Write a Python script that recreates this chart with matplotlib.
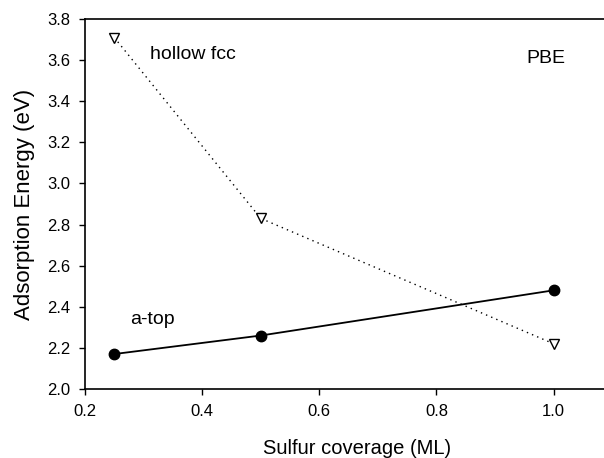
import numpy as np
import matplotlib
matplotlib.use("Agg")
import matplotlib.pyplot as plt

plt.rcParams['font.family'] = ['Liberation Sans', 'DejaVu Sans']

coverage = [0.25, 0.5, 1.0]
hollow_fcc = [3.71, 2.83, 2.22]
a_top = [2.17, 2.26, 2.48]

xticks = [0.2, 0.4, 0.6, 0.8, 1.0]
yticks = np.arange(2.0, 3.81, 0.2)

fig = plt.figure(figsize=(6.04, 4.58), dpi=100)
ax = fig.add_axes([0.1407, 0.1507, 0.8593, 0.8078])

ax.plot(coverage, hollow_fcc, color='black', linestyle=(0, (1, 3)), linewidth=1.0,
        marker='v', markersize=7, markerfacecolor='white', markeredgecolor='black',
        markeredgewidth=1.0)
ax.plot(coverage, a_top, color='black', linestyle='-', linewidth=1.3,
        marker='o', markersize=7.5, markerfacecolor='black', markeredgecolor='black')

ax.text(0.311, 3.625, 'hollow fcc', fontsize=14, va='center', ha='left')
ax.text(0.277, 2.336, 'a-top', fontsize=14, va='center', ha='left')
ax.text(0.954, 3.61, 'PBE', fontsize=14, va='center', ha='left')

ax.set_xlim(0.2, 1.086)
ax.set_ylim(2.0, 3.8)
ax.set_xticks(xticks)
ax.set_xticklabels(['%.1f' % v for v in xticks])
ax.set_yticks(yticks)
ax.set_yticklabels(['%.1f' % v for v in yticks])
ax.tick_params(direction='out', length=4.5, width=1, labelsize=12, top=False, right=False)
ax.tick_params(axis='x', pad=6.5)
ax.tick_params(axis='y', pad=6)
ax.spines['right'].set_visible(False)
for s in ['left', 'bottom', 'top']:
    ax.spines[s].set_linewidth(1.2)

ax.set_xlabel('Sulfur coverage (ML)', fontsize=14.5)
ax.xaxis.set_label_coords(0.524, -0.135)
ax.set_ylabel('Adsorption Energy (eV)', fontsize=16, labelpad=9)

fig.savefig('out.png', dpi=100)
